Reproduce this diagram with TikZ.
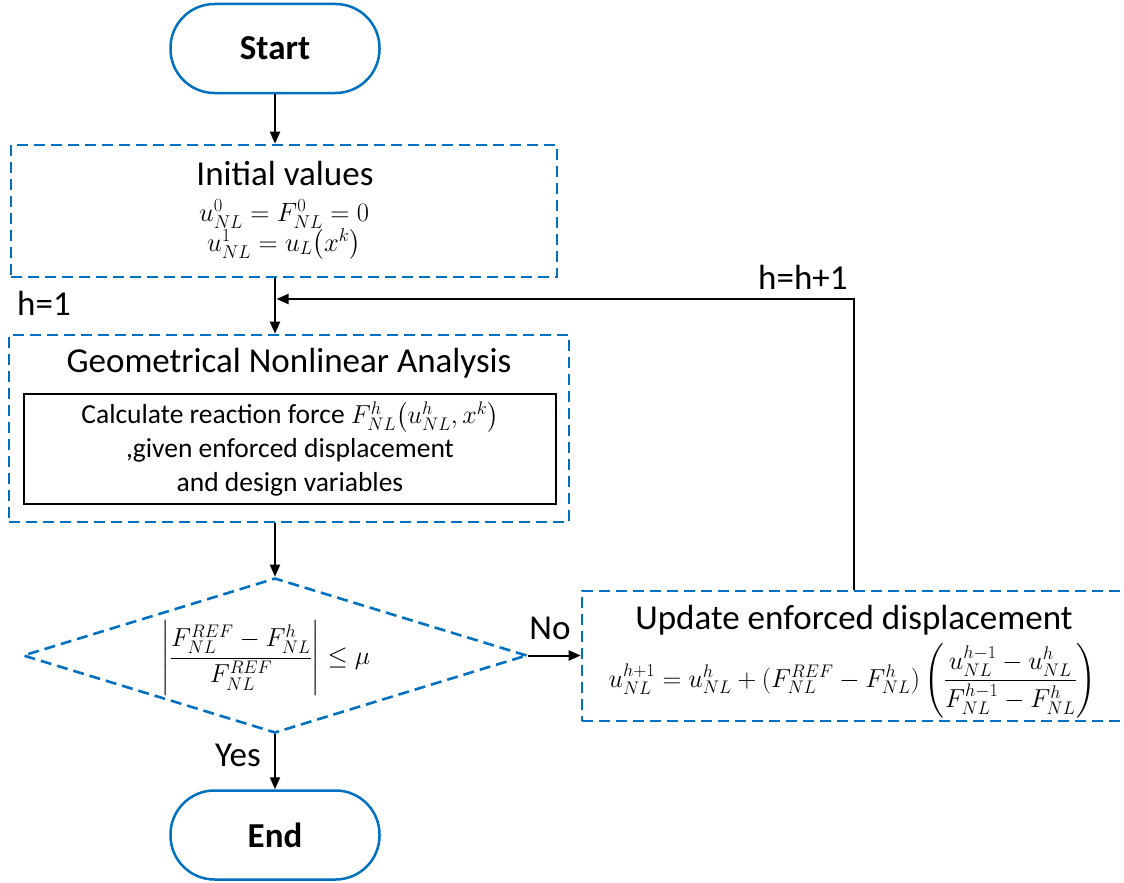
\RequirePackage{fix-cm}
\documentclass[tikz,border=0pt]{standalone}
\usepackage{amsmath}
\usepackage{fontspec}
\setmainfont{Carlito}
\usetikzlibrary{shapes.geometric}
\usetikzlibrary{arrows.meta}
\definecolor{lineblue}{RGB}{0,112,192}

\begin{document}
\begin{tikzpicture}[x=1pt,y=-1pt,
  terminal/.style={draw=lineblue,line width=2.5pt,rounded corners=44pt,
    minimum width=209pt,minimum height=89pt,font=\fontsize{35}{40}\selectfont\bfseries},
  dashbox/.style={draw=lineblue,line width=2.6pt,dash pattern=on 11pt off 6pt,inner sep=0pt},
  calcbox/.style={draw=black,line width=2.4pt,align=center,inner sep=0pt,
    font=\fontsize{27.5}{34}\selectfont},
  flow/.style={line width=2pt,-{Triangle[length=12pt,width=10pt]}},
  lbl/.style={inner sep=0pt,font=\fontsize{35}{40}\selectfont},
  eqn/.style={inner sep=0pt,anchor=base,font=\fontsize{26.5}{32}\selectfont}]
\useasboundingbox (0,0) rectangle (1124,883);

% 起止框
\node[terminal] (start) at (275,48.5) {Start};
\node[terminal] (stop) at (275,835) {End};

% 初始值
\node[dashbox,minimum width=546pt,minimum height=132pt] (init) at (284,211) {};
\node[lbl,anchor=base] (inittitle) at (285,185) {Initial values};
\node[eqn] (initzero) at (284,221) {$u^0_{NL}=F^0_{NL}=0$};
\node[eqn] (initone) at (284,251) {$u^1_{NL}=u_L\bigl(x^k\bigr)$};

% 几何非线性分析(外框、标题、内框)
\node[dashbox,minimum width=560pt,minimum height=187pt] (gna) at (289,428.5) {};
\node[lbl,anchor=base] (gnatitle) at (289,372) {Geometrical Nonlinear Analysis};
\node[calcbox,minimum width=532pt,minimum height=110pt] (calc) at (290,449)
  {Calculate reaction force {\fontsize{26}{34}\selectfont$F^h_{NL}\bigl(u^h_{NL},x^k\bigr)$}\\
   ,given enforced displacement\\
   and design variables};

% 收敛判断
\node[dashbox,diamond,aspect=3.25,minimum width=504pt,minimum height=155pt] (check) at (275,655.5) {};
\node[inner sep=0pt,font=\fontsize{26}{32}\selectfont] (crit) at (266,658)
  {$\left|\dfrac{F^{REF}_{NL}-F^h_{NL}}{F^{REF}_{NL}}\right|\le\mu$};

% 更新强制位移
\node[dashbox,minimum width=544pt,minimum height=130pt] (upd) at (854,656) {};
\node[lbl,anchor=base] (updtitle) at (854,629) {Update enforced displacement};
\node[eqn,font=\fontsize{26}{32}\selectfont] (updeq) at (852.5,687)
  {$u^{h+1}_{NL}=u^h_{NL}+(F^{REF}_{NL}-F^h_{NL})
    \left(\dfrac{u^{h-1}_{NL}-u^h_{NL}}{F^{h-1}_{NL}-F^h_{NL}}\right)$};

% 连线
\coordinate (merge) at (276.5,299);
\draw[flow] (start) -- (start |- init.north);
\draw[flow] (init.south -| start) -- (gna.north -| start);
\draw[flow] (gna.south -| start) -- (check.north);
\draw[flow] (check.east) -- (check.east -| upd.west);
\draw[flow] (check.south) -- (stop.north);
\draw[flow] (upd.north) |- (merge);

% 标注
\node[lbl,anchor=base west] (hone) at (17,315) {h=1};
\node[lbl,anchor=base west] (hnext) at (758,289) {h=h+1};
\node[lbl] (no) at (550,628) {No};
\node[lbl] (yes) at (238,755) {Yes};

\end{tikzpicture}
\end{document}
